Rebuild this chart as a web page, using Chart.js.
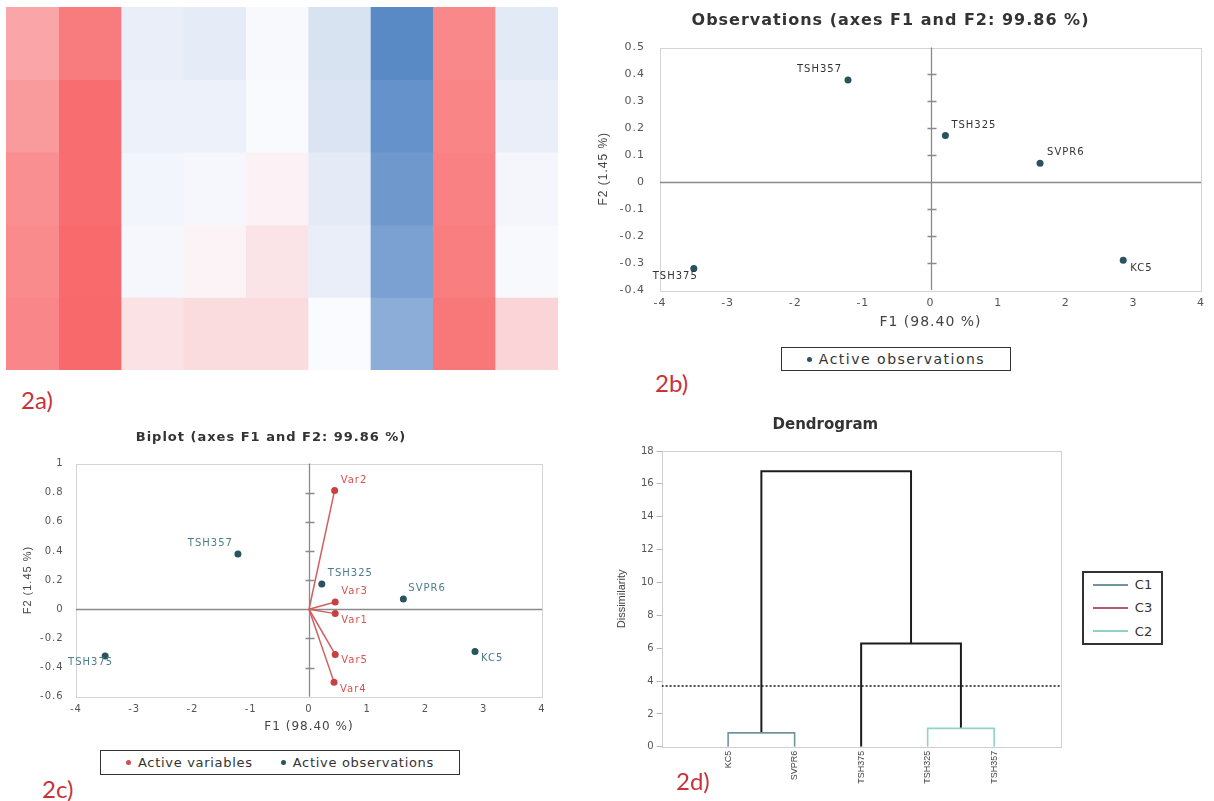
<!DOCTYPE html>
<html>
<head>
<meta charset="utf-8">
<title>Figure 2</title>
<script src="https://cdn.jsdelivr.net/npm/chart.js@4.4.1/dist/chart.umd.min.js"></script>
<style>
  body { margin: 0; background: #fff; }
  #page { position: relative; width: 1214px; height: 801px; overflow: hidden; background: #fff; }
  .pane { position: absolute; }
  .tag { position: absolute; font: 24px Lato, "Open Sans", sans-serif; line-height: 24px; color: #c8323b; }
  .legend { position: absolute; box-sizing: border-box; border: 1.5px solid #333; display: flex;
            align-items: center; justify-content: center; font-family: "DejaVu Sans", sans-serif; color: #333; }
  .dot { display: inline-block; width: 5px; height: 5px; border-radius: 50%; margin-right: 7px; }
  .crow { display: flex; align-items: center; height: 24px; }
  .cline { display: inline-block; width: 35px; height: 2px; margin-right: 7px; }
</style>
</head>
<body>
<div id="page">
  <div class="pane" style="left:6px;top:7px;width:552px;height:363px;overflow:hidden">
    <div class="pane" style="left:-9px;top:0;width:561px;height:363px"><canvas id="heat"></canvas></div>
  </div>
  <div class="tag" style="left:21px;top:388px">2a)</div>

  <div class="pane" style="left:580px;top:0;width:634px;height:335px"><canvas id="obs"></canvas></div>
  <div class="legend" style="left:781px;top:347px;width:230px;height:24px;font-size:14px;letter-spacing:1.5px">
    <span class="dot" style="background:#28535f"></span>Active observations
  </div>
  <div class="tag" style="left:655px;top:371px">2b)</div>

  <div class="pane" style="left:0;top:410px;width:560px;height:330px"><canvas id="biplot"></canvas></div>
  <div class="legend" style="left:100px;top:750px;width:360px;height:25px;font-size:13px;letter-spacing:0.7px">
    <span class="dot" style="background:#d0504d"></span>Active variables
    <span style="width:28px"></span>
    <span class="dot" style="background:#28535f"></span>Active observations
  </div>
  <div class="tag" style="left:42px;top:777px">2c)</div>

  <div class="pane" style="left:590px;top:400px;width:480px;height:385px"><canvas id="dendro"></canvas></div>
  <div class="legend" id="dlegend" style="left:1082px;top:571px;width:81px;height:74px;border-width:2px;flex-direction:column;font-size:13px"></div>
  <div class="tag" style="left:676px;top:769px">2d)</div>
</div>

<script>
// heatmap, rows top to bottom (-1 = full blue, 1 = full red)
var heatCols = ['1', '2', '3', '4', '5', '6', '7', '8', '9'];
var heatR1 = [0.59, 0.88, -0.12, -0.14, -0.03, -0.22, -1.00, 0.79, -0.16];
var heatR2 = [0.67, 0.97, -0.09, -0.09, -0.02, -0.21, -0.93, 0.81, -0.12];
var heatR3 = [0.74, 0.97, -0.06, -0.04, 0.07, -0.15, -0.87, 0.84, -0.05];
var heatR4 = [0.77, 0.99, -0.04, 0.06, 0.16, -0.12, -0.80, 0.86, -0.03];
var heatR5 = [0.80, 1.00, 0.18, 0.22, 0.22, -0.01, -0.69, 0.90, 0.27];
var heatRows = [heatR1, heatR2, heatR3, heatR4, heatR5];

// PCA observations
var obsNames = ['TSH357', 'TSH325', 'SVPR6', 'KC5', 'TSH375'];
var obsF1 = [-1.22, 0.22, 1.62, 2.85, -3.50];
var obsF2 = [0.379, 0.173, 0.07, -0.29, -0.32];

// PCA variables
var varNames = ['Var2', 'Var3', 'Var1', 'Var5', 'Var4'];
var varF1 = [0.44, 0.45, 0.45, 0.45, 0.43];
var varF2 = [0.815, 0.05, -0.03, -0.31, -0.50];

// dendrogram: leaves 0-4, each merge makes a new node 5, 6, ...
var leafNames = ['KC5', 'SVPR6', 'TSH375', 'TSH325', 'TSH357'];
var mergeLeft = [0, 3, 2, 5];
var mergeRight = [1, 4, 6, 7];
var mergeHeight = [0.85, 1.12, 6.28, 16.77];
var mergeCluster = ['C1', 'C2', null, null];
var cutHeight = 3.7;
var clusterNames = ['C1', 'C3', 'C2'];

// label placement next to points [align, dx, dy]
var obsLabelAtB = [['right', -6, -11], ['left', 6, -10], ['left', 7, -11], ['left', 7, 8], ['right', 4, 8]];
var obsLabelAtC = [['right', -5, -11], ['left', 6, -11], ['left', 5, -11], ['left', 6, 7], ['right', 8, 7]];
var varLabelAt = [['left', 6, -10], ['left', 6, -11], ['left', 6, 7], ['left', 6, 6], ['left', 6, 7]];

var clusterColors = { C1: '#6f969e', C3: '#b65a6b', C2: '#8fd3c6' };
var DV = 'DejaVu Sans';

function heatColor(v) {
    var w = [252, 252, 255], red = [248, 105, 107], blue = [90, 138, 198];
    var c = v >= 0 ? red : blue, t = Math.abs(v);
    return 'rgb(' + w.map(function (a, i) { return Math.round(a + (c[i] - a) * t); }).join(',') + ')';
}

function plainNum(v) { return String(+v.toFixed(2)); }

// wider text, like the stretched original
var spacing = {
    id: 'spacing',
    beforeUpdate: function (chart, args, o) { chart.ctx.letterSpacing = o.px + 'px'; },
    beforeDraw: function (chart, args, o) { chart.ctx.letterSpacing = o.px + 'px'; }
};

// plot frame, zero axes and their small ticks
var frame = {
    id: 'frame',
    beforeDatasetsDraw: function (chart, args, o) {
        var ctx = chart.ctx, a = chart.chartArea, x = chart.scales.x, y = chart.scales.y;
        ctx.save();
        ctx.lineWidth = 1;
        ctx.strokeStyle = o.color;
        ctx.strokeRect(Math.round(a.left) + 0.5, Math.round(a.top) + 0.5, Math.round(a.width), Math.round(a.height));
        if (o.cross) {
            var x0 = Math.round(x.getPixelForValue(0)) + 0.5;
            var y0 = Math.round(y.getPixelForValue(0)) + 0.5;
            ctx.strokeStyle = o.cross;
            ctx.lineWidth = 1.3;
            ctx.beginPath();
            ctx.moveTo(a.left, y0); ctx.lineTo(a.right, y0);
            ctx.moveTo(x0, a.top); ctx.lineTo(x0, a.bottom);
            y.ticks.forEach(function (t, i) {
                if (t.value === 0 || i === 0 || i === y.ticks.length - 1) return;
                var p = Math.round(y.getPixelForValue(t.value)) + 0.5;
                ctx.moveTo(x0 - 4, p); ctx.lineTo(x0 + 5, p);
            });
            ctx.stroke();
        }
        ctx.restore();
    }
};

// names written next to points
var pointLabels = {
    id: 'pointLabels',
    afterDatasetsDraw: function (chart) {
        var ctx = chart.ctx;
        chart.data.datasets.forEach(function (ds, i) {
            if (!ds.names) return;
            var meta = chart.getDatasetMeta(i);
            ctx.save();
            ctx.font = '10px "DejaVu Sans"';
            ctx.fillStyle = ds.nameColor;
            ctx.textBaseline = 'middle';
            meta.data.forEach(function (pt, j) {
                if (!ds.names[j]) return;
                var at = ds.nameAt[j];
                ctx.textAlign = at[0];
                ctx.fillText(ds.names[j], pt.x + at[1], pt.y + at[2]);
            });
            ctx.restore();
        });
    }
};

function fixH(h) { return function (s) { s.height = h; }; }
function fixW(w) { return function (s) { s.width = w; }; }

// 2a heatmap
new Chart(document.getElementById('heat'), {
    type: 'bar',
    data: {
        labels: heatCols,
        datasets: heatRows.map(function (row) {
            return {
                data: row.map(function () { return 1; }),
                backgroundColor: row.map(heatColor),
                borderWidth: 0,
                barPercentage: 1,
                categoryPercentage: 1
            };
        })
    },
    options: {
        responsive: true, maintainAspectRatio: false, animation: false,
        plugins: { legend: { display: false }, tooltip: { enabled: false } },
        scales: {
            x: { display: false, stacked: true },
            y: { display: false, stacked: true, reverse: true, min: 0, max: heatRows.length }
        }
    }
});

// 2b observations
new Chart(document.getElementById('obs'), {
    type: 'scatter',
    data: {
        datasets: [{
            data: obsF1.map(function (v, i) { return { x: v, y: obsF2[i] }; }),
            names: obsNames, nameAt: obsLabelAtB, nameColor: '#333',
            pointRadius: 3.5, pointBackgroundColor: '#28535f', pointBorderWidth: 0
        }]
    },
    options: {
        responsive: true, maintainAspectRatio: false, animation: false,
        layout: { padding: { right: 13 } },
        plugins: {
            legend: { display: false }, tooltip: { enabled: false },
            title: {
                display: true, text: 'Observations (axes F1 and F2: 99.86 %)', color: '#333',
                font: { family: DV, size: 16, weight: 'bold' }, padding: { top: 11, bottom: 17.3 }
            },
            spacing: { px: 1 },
            frame: { color: '#d4d4d4', cross: '#8a8a8a' }
        },
        scales: {
            x: {
                type: 'linear', min: -4, max: 4,
                ticks: { stepSize: 1, padding: 7, color: '#555', font: { family: DV, size: 11 } },
                grid: { display: false, drawTicks: false }, border: { display: false },
                title: { display: true, text: 'F1 (98.40 %)', color: '#444', font: { family: DV, size: 14 }, padding: { top: 0, bottom: 4.6 } },
                afterFit: fixH(45)
            },
            y: {
                min: -0.4, max: 0.5,
                ticks: { stepSize: 0.1, padding: 15, color: '#555', font: { family: DV, size: 11 }, callback: plainNum },
                grid: { display: false, drawTicks: false }, border: { display: false },
                title: { display: true, text: 'F2 (1.45 %)', color: '#444', font: { family: 'Liberation Sans', size: 12 }, padding: { top: 16.8, bottom: 0 } },
                afterFit: fixW(80)
            }
        }
    },
    plugins: [spacing, frame, pointLabels]
});

// 2c biplot
var varSets = varNames.map(function (n, i) {
    return {
        data: [{ x: 0, y: 0 }, { x: varF1[i], y: varF2[i] }],
        showLine: true, borderColor: '#d06060', borderWidth: 1.5,
        pointRadius: [0, 3.5], pointBackgroundColor: '#c8403f', pointBorderWidth: 0,
        names: [null, n], nameAt: [null, varLabelAt[i]], nameColor: '#d9534f'
    };
});
new Chart(document.getElementById('biplot'), {
    type: 'scatter',
    data: {
        datasets: varSets.concat([{
            data: obsF1.map(function (v, i) { return { x: v, y: obsF2[i] }; }),
            names: obsNames, nameAt: obsLabelAtC, nameColor: '#4a7c8c',
            pointRadius: 3.5, pointBackgroundColor: '#28535f', pointBorderWidth: 0
        }])
    },
    options: {
        responsive: true, maintainAspectRatio: false, animation: false,
        layout: { padding: { right: 18 } },
        plugins: {
            legend: { display: false }, tooltip: { enabled: false },
            title: {
                display: true, text: 'Biplot (axes F1 and F2: 99.86 %)', color: '#333',
                font: { family: DV, size: 13, weight: 'bold' }, padding: { top: 20.2, bottom: 17.7 }
            },
            spacing: { px: 1 },
            frame: { color: '#d4d4d4', cross: '#8a8a8a' }
        },
        scales: {
            x: {
                type: 'linear', min: -4, max: 4,
                ticks: { stepSize: 1, padding: 6.3, color: '#555', font: { family: DV, size: 10 } },
                grid: { display: false, drawTicks: false }, border: { display: false },
                title: { display: true, text: 'F1 (98.40 %)', color: '#444', font: { family: DV, size: 12 }, padding: { top: 0, bottom: 5.8 } },
                afterFit: fixH(43.3)
            },
            y: {
                min: -0.6, max: 1,
                ticks: { stepSize: 0.2, padding: 12.4, color: '#555', font: { family: DV, size: 10 }, callback: plainNum },
                grid: { display: false, drawTicks: false }, border: { display: false },
                title: { display: true, text: 'F2 (1.45 %)', color: '#444', font: { family: 'Liberation Sans', size: 11 }, padding: { top: 21.4, bottom: 0 } },
                afterFit: fixW(76)
            }
        }
    },
    plugins: [spacing, frame, pointLabels]
});

// 2d dendrogram
var nodeX = leafNames.map(function (n, i) { return i + 1; });
var nodeH = leafNames.map(function () { return 0; });
var linkSets = mergeLeft.map(function (l, k) {
    var r = mergeRight[k], h = mergeHeight[k], c = mergeCluster[k];
    var pts = [{ x: nodeX[l], y: nodeH[l] }, { x: nodeX[l], y: h }, { x: nodeX[r], y: h }, { x: nodeX[r], y: nodeH[r] }];
    nodeX.push((nodeX[l] + nodeX[r]) / 2);
    nodeH.push(h);
    return {
        data: pts, showLine: true, pointRadius: 0, tension: 0,
        borderColor: c ? clusterColors[c] : '#1c1c1c', borderWidth: c ? 1.6 : 2
    };
});
var cutSet = {
    data: [{ x: 0, y: cutHeight }, { x: leafNames.length + 1, y: cutHeight }],
    showLine: true, pointRadius: 0, borderColor: '#222', borderWidth: 1.6, borderDash: [2, 2]
};
new Chart(document.getElementById('dendro'), {
    type: 'scatter',
    data: { datasets: [cutSet].concat(linkSets) },
    options: {
        responsive: true, maintainAspectRatio: false, animation: false,
        layout: { padding: { right: 9.3 } },
        plugins: {
            legend: { display: false }, tooltip: { enabled: false },
            title: {
                display: true, text: 'Dendrogram', color: '#333',
                font: { family: DV, size: 15, weight: 'bold' }, padding: { top: 16, bottom: 17 }
            },
            spacing: { px: 0 },
            frame: { color: '#cfcfcf' }
        },
        scales: {
            x: {
                type: 'linear', min: 0, max: leafNames.length + 1,
                afterBuildTicks: function (s) { s.ticks = leafNames.map(function (n, i) { return { value: i + 1 }; }); },
                ticks: {
                    autoSkip: false, minRotation: 90, maxRotation: 90, padding: 4, color: '#444',
                    font: { family: "'Liberation Sans Narrow', 'Liberation Sans'", size: 9 },
                    callback: function (v) { return leafNames[v - 1]; }
                },
                grid: { display: false, drawTicks: false }, border: { display: false },
                afterFit: fixH(38.2)
            },
            y: {
                min: 0, max: 18,
                ticks: { stepSize: 2, padding: 3, color: '#555', font: { family: DV, size: 10 } },
                grid: { drawOnChartArea: false, drawTicks: true, tickLength: 5, tickColor: '#b5b5b5' },
                border: { display: false },
                title: { display: true, text: 'Dissimilarity', color: '#444', font: { family: "'Liberation Sans Narrow', 'Liberation Sans'", size: 11 }, padding: { top: 25.4, bottom: 0 } },
                afterFit: fixW(71.6)
            }
        }
    },
    plugins: [spacing, frame]
});

// dendrogram legend (cluster key)
var dl = document.getElementById('dlegend');
clusterNames.forEach(function (n) {
    var row = document.createElement('div');
    row.className = 'crow';
    row.innerHTML = '<span class="cline" style="background:' + clusterColors[n] + '"></span>' + n;
    dl.appendChild(row);
});
</script>
</body>
</html>
